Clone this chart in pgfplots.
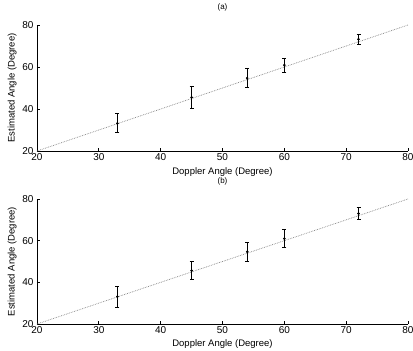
\documentclass[border=0pt]{standalone}
\usepackage{fontspec}
\setmainfont{Liberation Sans}
\usepackage{pgfplots}
\pgfplotsset{compat=1.18}
\pgfplotsset{myax/.style={
  scale only axis, width=371pt, height=126pt,
  xmin=20, xmax=80, ymin=20, ymax=80,
  xtick={20,30,...,80}, ytick={20,40,60,80},
  axis x line*=bottom, axis y line*=left,
  tick align=inside, major tick length=3pt,
  tick style={black, line width=0.8pt},
  axis line style={black, line width=0.9pt},
  /pgf/number format/assume math mode=true,
  ticklabel style={font=\fontsize{10}{11}\selectfont},
  xticklabel style={yshift=1pt},
  label style={font=\fontsize{9.5}{11}\selectfont},
  xlabel={Doppler Angle (Degree)}, ylabel={Estimated Angle (Degree)},
  xlabel style={at={(axis description cs:0.5,0)}, anchor=center, yshift=-21pt},
  ylabel style={at={(axis description cs:-0.067,0.5)}, anchor=center},
  title style={font=\fontsize{8}{9}\selectfont, at={(axis description cs:0.5,1)}, anchor=center, yshift=12pt},
  clip=false}}
\pgfplotstableread{
x y e
33 33.2 4.5
45 45.5 5.2
54 54.7 4.5
60 60.9 3.3
72 73.2 2.2
}\dataA
\pgfplotstableread{
x y e
33 33.1 5.0
45 45.6 4.3
54 54.7 4.5
60 61.0 4.4
72 73.0 3.0
}\dataB
\begin{document}
\begin{tikzpicture}
\useasboundingbox (0,0) rectangle (413pt,351pt);
\begin{axis}[myax, at={(37pt,200pt)}, anchor=south west, title={(a)}]
\addplot[gray, densely dotted, line width=0.7pt] coordinates {(20,20) (80,80)};
\addplot[black, only marks, mark=*, mark size=1.1pt,
  error bars/.cd, y dir=both, y explicit,
  error bar style={line width=0.7pt},
  error mark options={rotate=90, mark size=2pt, line width=0.7pt}]
  table[x=x, y=y, y error=e]{\dataA};
\end{axis}
\begin{axis}[myax, height=125pt, at={(37pt,27pt)}, anchor=south west, title={(b)}, xlabel style={yshift=1pt}]
\addplot[gray, densely dotted, line width=0.7pt] coordinates {(20,20) (80,80)};
\addplot[black, only marks, mark=*, mark size=1.1pt,
  error bars/.cd, y dir=both, y explicit,
  error bar style={line width=0.7pt},
  error mark options={rotate=90, mark size=2pt, line width=0.7pt}]
  table[x=x, y=y, y error=e]{\dataB};
\end{axis}
\end{tikzpicture}
\end{document}
